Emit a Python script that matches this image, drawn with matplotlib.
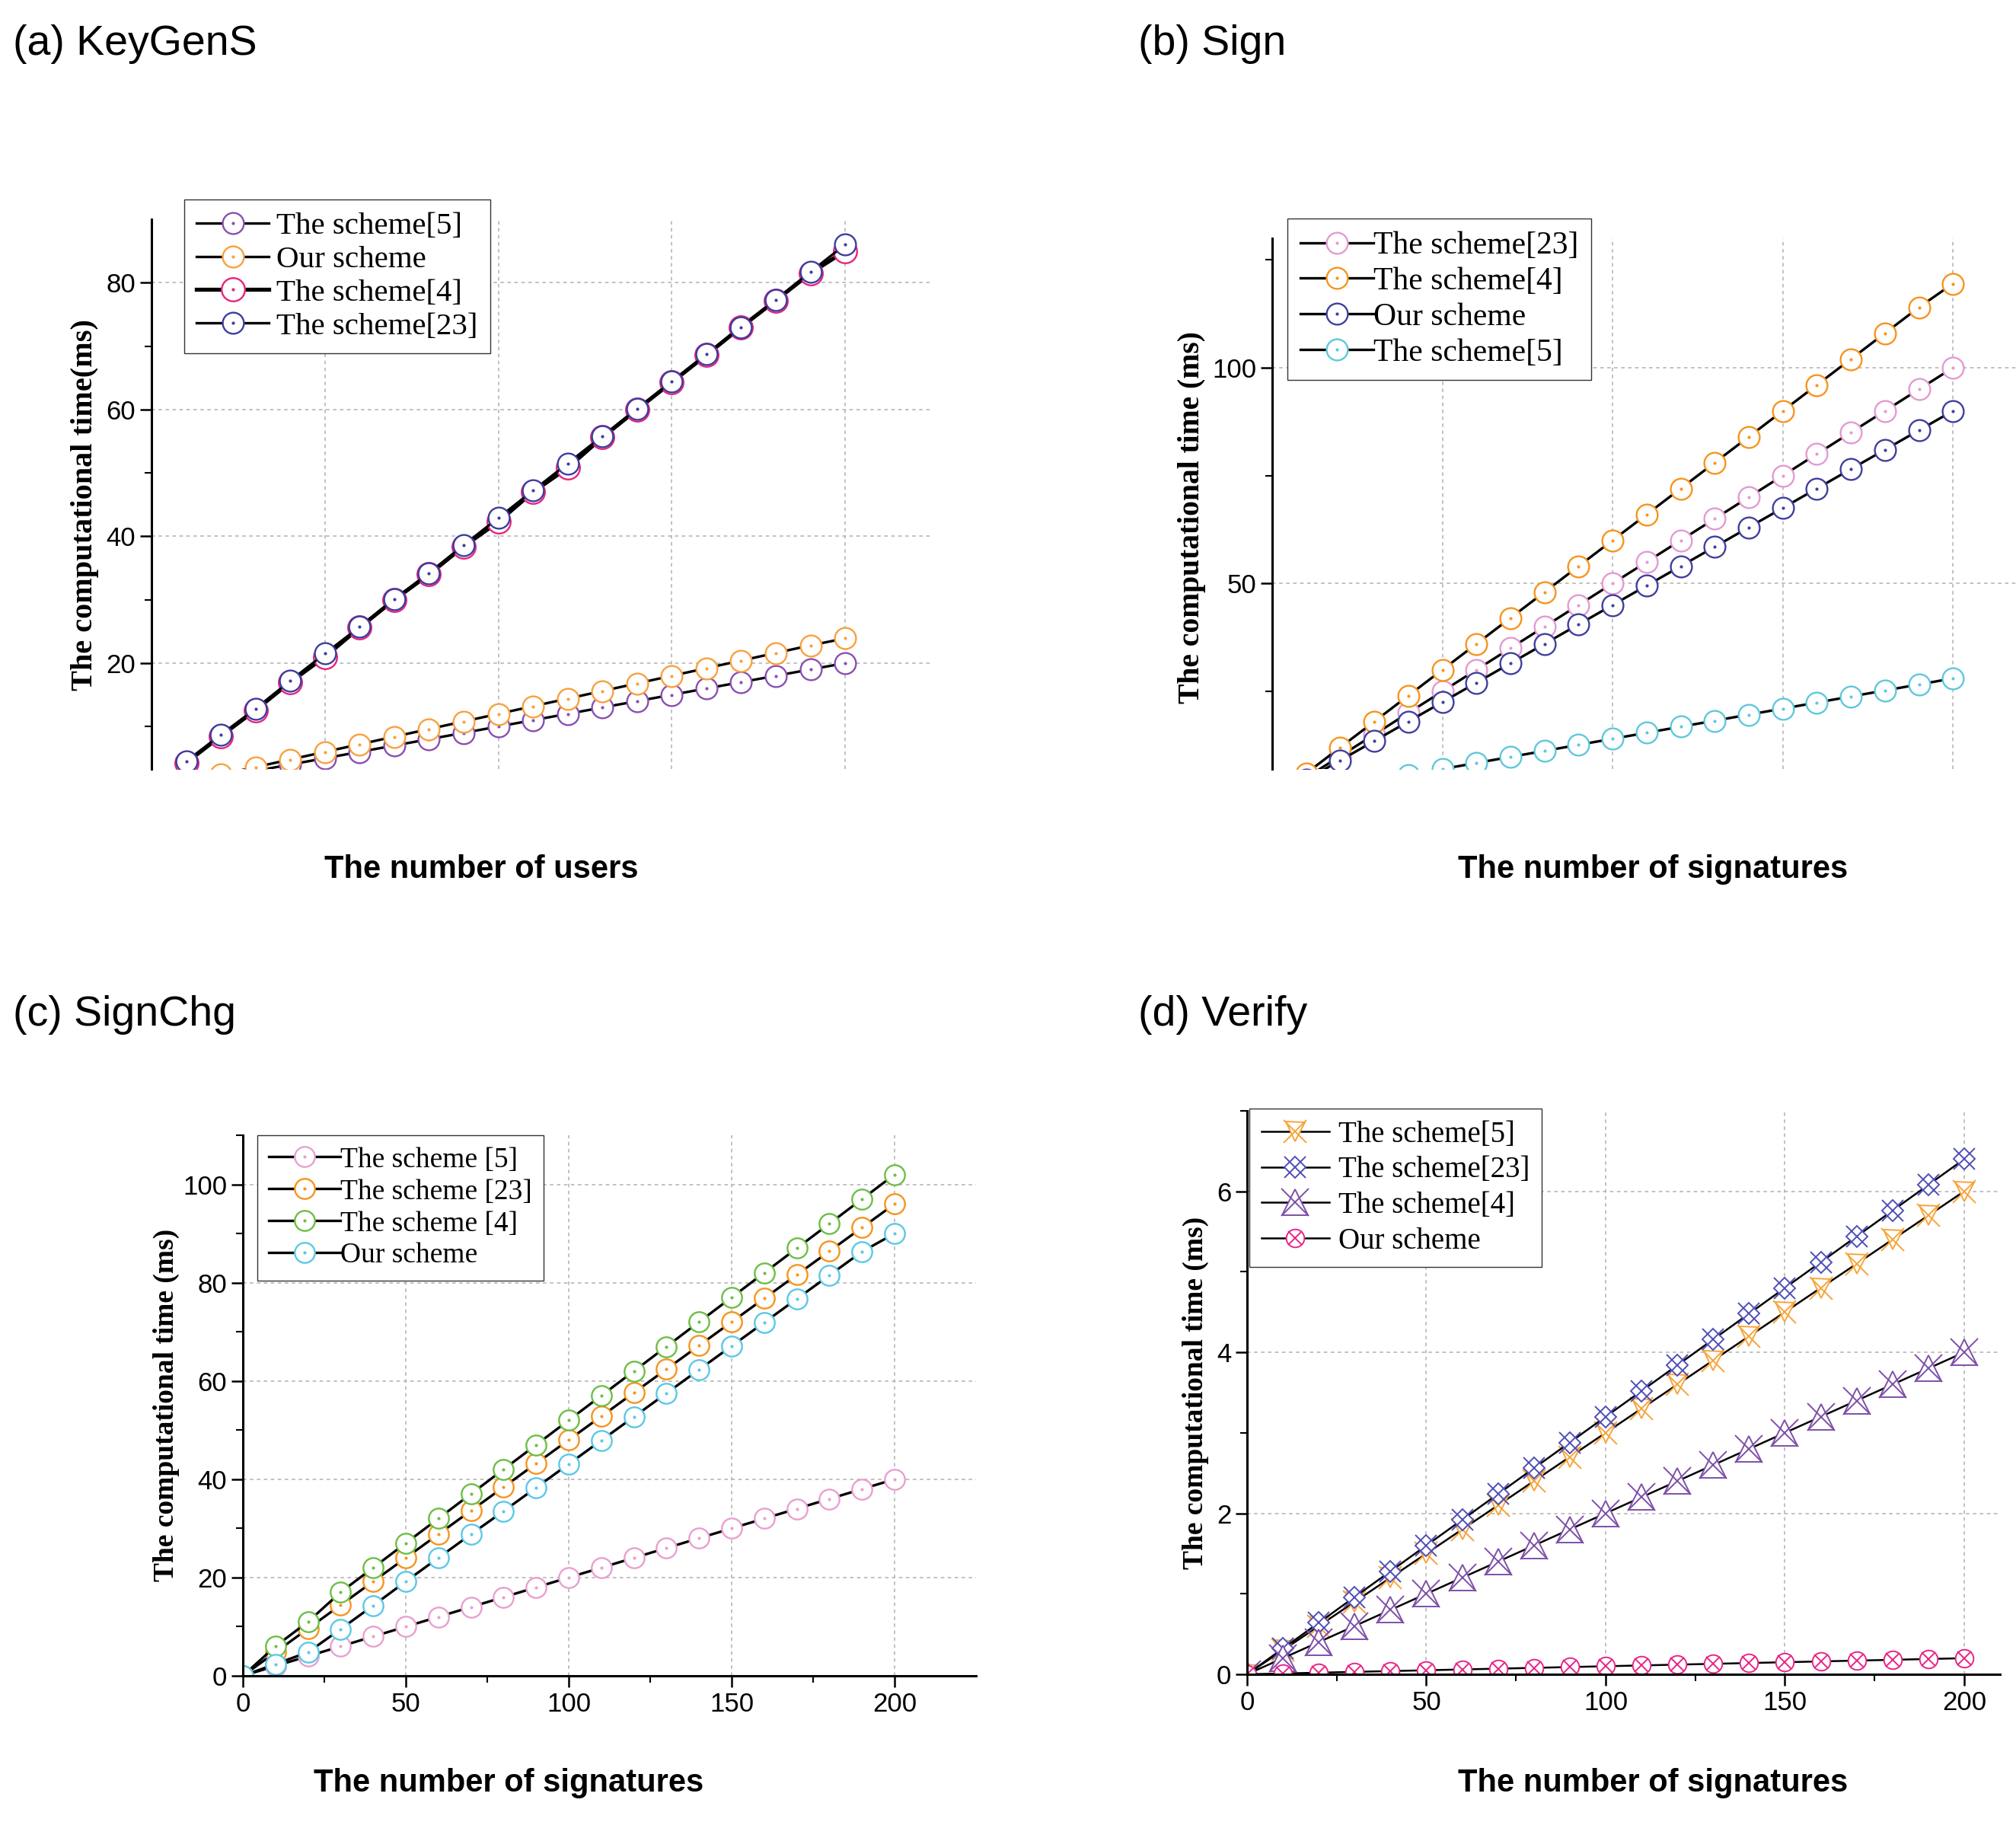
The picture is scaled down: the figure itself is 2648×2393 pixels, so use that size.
import matplotlib.pyplot as plt
from matplotlib.legend_handler import HandlerTuple

# ---- data ----
users = [10, 20, 30, 40, 50, 60, 70, 80, 90, 100, 110, 120, 130, 140, 150, 160, 170, 180, 190, 200]
a_s5 = [1, 2, 3, 4, 5, 6, 7, 8, 9, 10, 11, 12, 13, 14, 15, 16, 17, 18, 19, 20]
a_our = [1.2, 2.4, 3.6, 4.8, 6.0, 7.2, 8.4, 9.6, 10.8, 12.0, 13.2, 14.4, 15.6, 16.8, 18.0, 19.2, 20.4, 21.6, 22.8, 23.9]
a_s4 = [4.3, 8.5, 12.6, 17.0, 21.0, 25.6, 30.0, 34.0, 38.4, 42.3, 47.0, 50.8, 55.6, 60.0, 64.3, 68.6, 73.0, 77.2, 81.5, 85.0]
a_s23 = [4.5, 8.7, 12.8, 17.2, 21.5, 25.7, 30.1, 34.2, 38.6, 42.9, 47.2, 51.5, 55.8, 60.1, 64.4, 68.7, 73.0, 77.3, 81.7, 86.0]

sigs_b = [10, 20, 30, 40, 50, 60, 70, 80, 90, 100, 110, 120, 130, 140, 150, 160, 170, 180, 190, 200]
b_s23 = [5, 10, 15, 20, 25, 30, 35, 40, 45, 50, 55, 60, 65, 70, 75, 80, 85, 90, 95, 100]
b_s4 = [6, 12, 18, 24, 30, 36, 42, 48, 54, 60, 66, 72, 78, 84, 90, 96, 102, 108, 114, 119.5]
b_our = [4.5, 9, 13.5, 18, 22.5, 27, 31.5, 36, 40.5, 45, 49.5, 54, 58.5, 63, 67.5, 72, 76.5, 81, 85.5, 90]
b_s5 = [1.4, 2.8, 4.2, 5.6, 7.0, 8.4, 9.8, 11.2, 12.6, 14.0, 15.4, 16.8, 18.2, 19.6, 21.0, 22.4, 23.8, 25.2, 26.6, 28.0]

sigs = [0, 10, 20, 30, 40, 50, 60, 70, 80, 90, 100, 110, 120, 130, 140, 150, 160, 170, 180, 190, 200]
c_s5 = [0, 2, 4, 6, 8, 10, 12, 14, 16, 18, 20, 22, 24, 26, 28, 30, 32, 34, 36, 38, 40]
c_s23 = [0, 4.8, 9.6, 14.4, 19.2, 24, 28.8, 33.6, 38.4, 43.2, 48, 52.8, 57.6, 62.4, 67.2, 72, 76.8, 81.6, 86.4, 91.2, 96]
c_s4 = [0, 6, 11, 17, 22, 27, 32, 37, 42, 47, 52, 57, 62, 67, 72, 77, 82, 87, 92, 97, 102]
c_our = [0, 2.4, 4.8, 9.5, 14.3, 19.2, 24, 28.8, 33.5, 38.3, 43.1, 47.9, 52.7, 57.5, 62.3, 67.1, 71.9, 76.7, 81.5, 86.3, 90]

d_s5 = [0, 0.3, 0.6, 0.9, 1.2, 1.5, 1.8, 2.1, 2.4, 2.7, 3.0, 3.3, 3.6, 3.9, 4.2, 4.5, 4.8, 5.1, 5.4, 5.7, 6.0]
d_s23 = [0, 0.32, 0.64, 0.96, 1.28, 1.6, 1.92, 2.24, 2.56, 2.88, 3.2, 3.52, 3.84, 4.16, 4.48, 4.8, 5.12, 5.44, 5.76, 6.08, 6.4]
d_s4 = [0, 0.2, 0.4, 0.6, 0.8, 1.0, 1.2, 1.4, 1.6, 1.8, 2.0, 2.2, 2.4, 2.6, 2.8, 3.0, 3.2, 3.4, 3.6, 3.8, 4.0]
d_our = [0, 0.01, 0.02, 0.03, 0.04, 0.05, 0.06, 0.07, 0.08, 0.09, 0.10, 0.11, 0.12, 0.13, 0.14, 0.15, 0.16, 0.17, 0.18, 0.19, 0.20]

W, H = 2648, 2393
fig = plt.figure(figsize=(W / 100, H / 100), dpi=100)

SERIF = 'Liberation Serif'
SANS = 'Liberation Sans'
NARROW = ['Liberation Sans Narrow', 'Liberation Sans']


def axes_at(l, t, r, b):
    return fig.add_axes([l / W, 1 - b / H, (r - l) / W, (b - t) / H])


def style(ax, xlim, ylim, yt, ymin, show_x):
    ax.set_xlim(xlim)
    ax.set_ylim(ylim)
    ax.set_xticks([0, 50, 100, 150, 200])
    ax.set_xticks([25, 75, 125, 175], minor=True)
    ax.set_yticks(yt)
    ax.set_yticks(ymin, minor=True)
    ax.spines['top'].set_visible(False)
    ax.spines['right'].set_visible(False)
    ax.spines['left'].set_linewidth(2.2)
    ax.spines['bottom'].set_linewidth(2.2)
    ax.tick_params(which='major', direction='out', length=11, width=1.8, labelsize=25, pad=4)
    ax.tick_params(which='minor', direction='out', length=6.5, width=1.5)
    if not show_x:
        ax.spines['bottom'].set_visible(False)
        ax.tick_params(axis='x', which='both', length=0, labelbottom=False)
    for lab in ax.get_xticklabels() + ax.get_yticklabels():
        lab.set_family(NARROW)
    ax.grid(True, which='major', color='#b0b0b0', ls=(0, (3, 3)), lw=1.1)
    ax.set_axisbelow(True)


def circ(ax, x, y, c, label, lw=2.4, ms=20):
    ln, = ax.plot(x, y, '-', color='k', lw=lw, marker='o', ms=ms, mfc='white',
                  mec=c, mew=1.7, label=label)
    dot, = ax.plot(x, y, ls='none', marker='o', ms=2, color=c)
    return (ln, dot)


def legend(ax, handles, labels, x, y, size, hl, tp, ls):
    ax.legend(handles, labels, loc='upper left', bbox_to_anchor=(x / W, 1 - y / H),
              bbox_transform=fig.transFigure, borderaxespad=0, fancybox=False,
              framealpha=1, edgecolor='#333333', handlelength=hl, handletextpad=tp,
              labelspacing=ls, borderpad=0.4, prop={'family': SERIF, 'size': size},
              handler_map={tuple: HandlerTuple(ndivide=1)})


# ---- (a) KeyGenS ----
ax = axes_at(199, 288, 1224, 1010)
style(ax, (0, 225), (3.3, 90), [20, 40, 60, 80], [10, 30, 50, 70], False)
h1 = circ(ax, users, a_s5, '#8A4FB0', 'The scheme [5]')
h2 = circ(ax, users, a_our, '#F9A03F', 'Our scheme')
h3 = circ(ax, users, a_s4, '#E8247C', 'The scheme [4]', lw=3.8, ms=22)
h4 = circ(ax, users, a_s23, '#3B3DA0', 'The scheme [23]')
legend(ax, [h1, h2, h3, h4], ['The scheme[5]', 'Our scheme', 'The scheme[4]', 'The scheme[23]'],
       242, 262, 29.5, 2.3, 0.25, 0.15)

# ---- (b) Sign ----
ax = axes_at(1671, 313, 2677, 1010)
style(ax, (0, 225), (7, 130), [50, 100], [25, 75, 125], False)
h1 = circ(ax, sigs_b, b_s23, '#E39AD2', 'The scheme[23]')
h2 = circ(ax, sigs_b, b_s4, '#F7941E', 'The scheme[4]')
h3 = circ(ax, sigs_b, b_our, '#3F3F9F', 'Our scheme')
h4 = circ(ax, sigs_b, b_s5, '#5EC8DC', 'The scheme[5]')
legend(ax, [h1, h2, h3, h4], ['The scheme[23]', 'The scheme[4]', 'Our scheme', 'The scheme[5]'],
       1691, 287, 30, 2.3, 0.0, 0.2)

# ---- (c) SignChg ----
ax = axes_at(319, 1491, 1282, 2201)
style(ax, (0, 225), (0, 110), [0, 20, 40, 60, 80, 100], [10, 30, 50, 70, 90, 110], True)
h1 = circ(ax, sigs, c_s5, '#E8A0D0', 'The scheme [5]', ms=19)
h2 = circ(ax, sigs, c_s23, '#F7941E', 'The scheme [23]', ms=19)
h3 = circ(ax, sigs, c_s4, '#6DBE45', 'The scheme [4]', ms=19)
h4 = circ(ax, sigs, c_our, '#5BC8E6', 'Our scheme', ms=19)
legend(ax, [h1, h2, h3, h4], ['The scheme [5]', 'The scheme [23]', 'The scheme [4]', 'Our scheme'],
       338, 1491, 27, 2.5, 0.0, 0.2)

# ---- (d) Verify ----
ax = axes_at(1638, 1459, 2627, 2199)
style(ax, (0, 210), (0, 7), [0, 2, 4, 6], [1, 3, 5, 7], True)
d_series = [
    (d_s5, '#F7A43A', 'v', 18, 21, 'The scheme[5]'),
    (d_s23, '#4F4FB5', 'D', 14, 20, 'The scheme[23]'),
    (d_s4, '#7E4FA8', '^', 25, 26, 'The scheme[4]'),
    (d_our, '#E8258A', 'o', 17, 13, 'Our scheme'),
]
handles, labels = [], []
for y, c, m, ms, xs, lab in d_series:
    ln, = ax.plot(sigs, y, '-', color='k', lw=1.8, marker=m, ms=ms, mfc='white', mec=c, mew=1.4)
    cr, = ax.plot(sigs, y, ls='none', marker='x', ms=xs, mec=c, mew=1.4)
    handles.append((ln, cr))
    labels.append(lab)
legend(ax, handles, labels, 1641, 1456, 28, 2.3, 0.3, 0.25)

# ---- axis titles and panel labels ----
ylab = dict(family=SERIF, weight='bold', rotation=90, ha='center', va='center')
fig.text(112 / W, 1 - 663 / H, 'The computational time(ms)', fontsize=29, **ylab)
fig.text(1565 / W, 1 - 680 / H, 'The computational time (ms)', fontsize=28.5, **ylab)
fig.text(218 / W, 1 - 1845 / H, 'The computational time (ms)', fontsize=27, **ylab)
fig.text(1570 / W, 1 - 1829 / H, 'The computational time (ms)', fontsize=27, **ylab)

xlab = dict(family=SANS, weight='bold', fontsize=30, ha='center', va='center')
fig.text(632 / W, 1 - 1142 / H, 'The number of users', **xlab)
fig.text(2171 / W, 1 - 1142 / H, 'The number of signatures', **xlab)
fig.text(668 / W, 1 - 2342 / H, 'The number of signatures', **xlab)
fig.text(2171 / W, 1 - 2342 / H, 'The number of signatures', **xlab)

ttl = dict(family=SANS, fontsize=40, ha='left', va='baseline')
fig.text(17 / W, 1 - 72 / H, '(a) KeyGenS', **ttl)
fig.text(1495 / W, 1 - 72 / H, '(b) Sign', **ttl)
fig.text(17 / W, 1 - 1347 / H, '(c) SignChg', **ttl)
fig.text(1495 / W, 1 - 1347 / H, '(d) Verify', **ttl)

fig.savefig('out.png', dpi=100)
